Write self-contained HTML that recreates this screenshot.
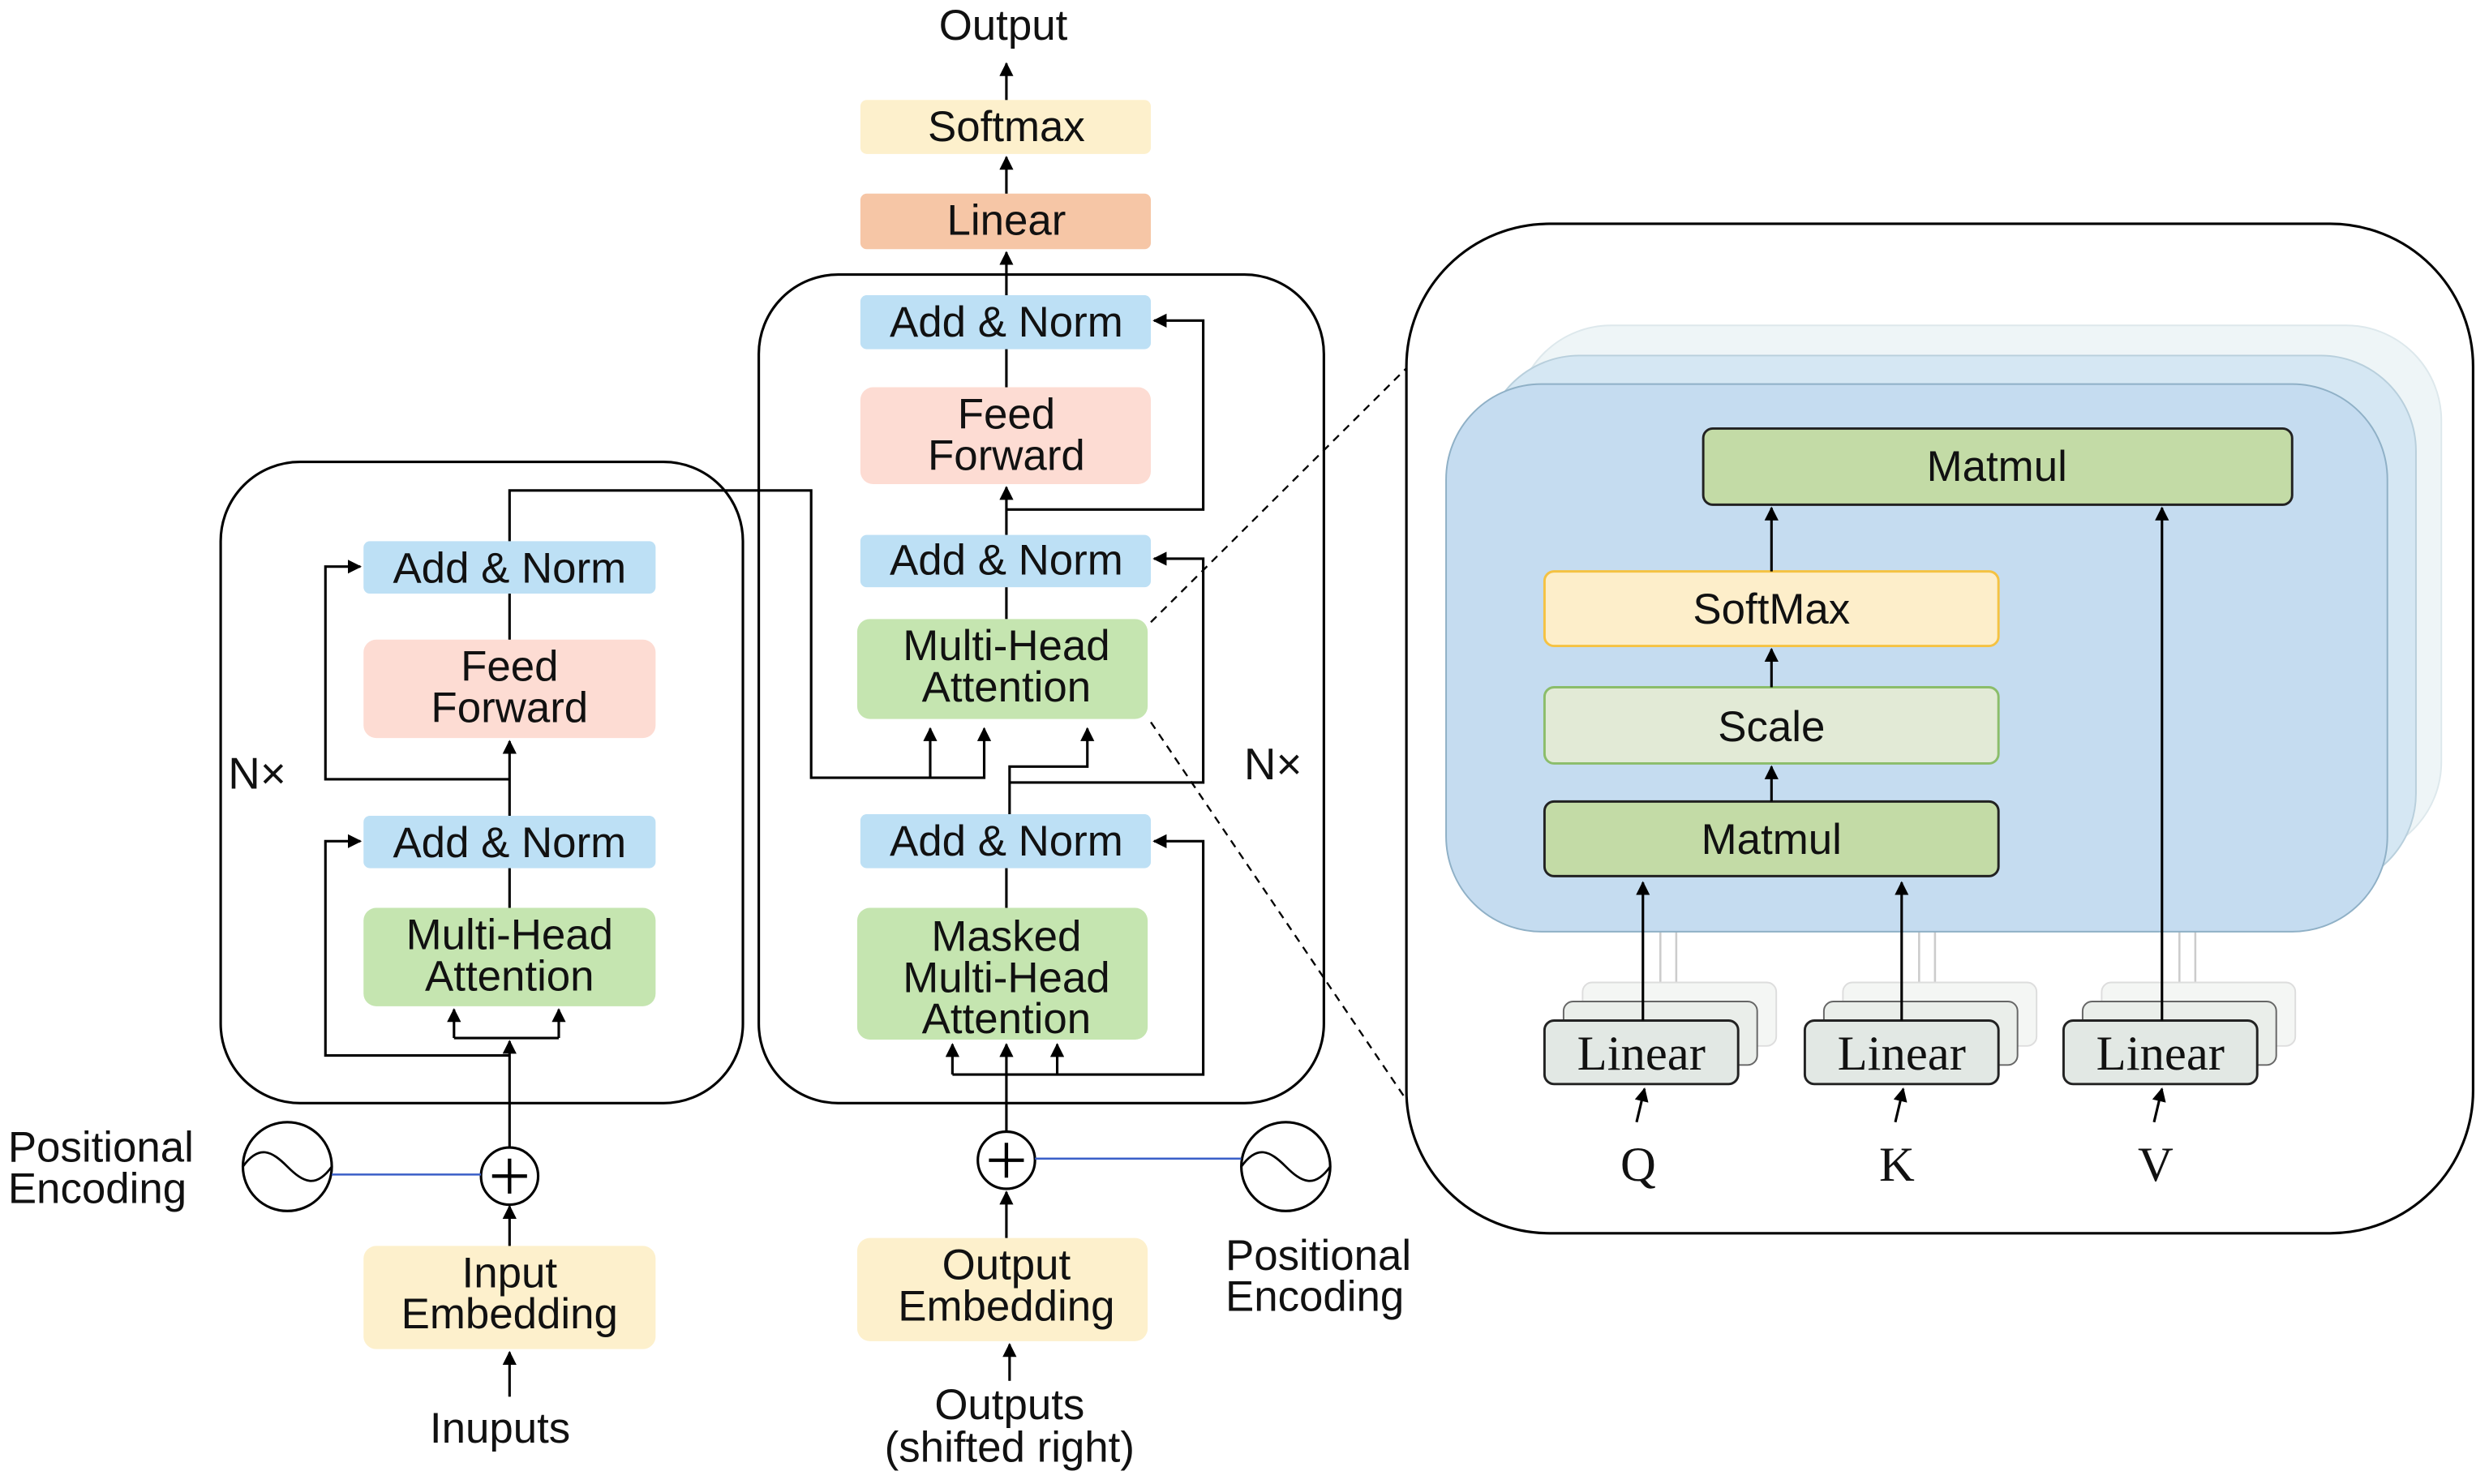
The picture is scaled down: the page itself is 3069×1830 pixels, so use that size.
<!DOCTYPE html>
<html><head><meta charset="utf-8"><style>
html,body{margin:0;padding:0;background:#fff;width:3069px;height:1830px;overflow:hidden}
svg{display:block}
text{font-family:"Liberation Sans",sans-serif;fill:#111;text-anchor:middle}
.s{font-family:"Liberation Serif",serif}
</style></head><body>
<svg width="3069" height="1830" viewBox="0 0 1568 935" xmlns="http://www.w3.org/2000/svg">
<defs>
<marker id="a" viewBox="0 0 10 10" refX="9" refY="5" markerWidth="5.5" markerHeight="5.5" orient="auto-start-reverse"><path d="M0,0L10,5L0,10z" fill="#000"/></marker>
</defs>
<g stroke="#000" stroke-width="1.6" fill="none">
<rect x="139" y="291" width="329" height="404" rx="50"/>
<rect x="478" y="173" width="356" height="522" rx="50"/>
<rect x="886" y="141" width="672" height="636" rx="90"/>
</g>
<rect x="542" y="63" width="183" height="34" rx="4" fill="#fdf0cc"/>
<rect x="542" y="122" width="183" height="35" rx="4" fill="#f6c6a6"/>
<rect x="542" y="186" width="183" height="34" rx="4" fill="#bde0f5"/>
<rect x="542" y="244" width="183" height="61" rx="8" fill="#fddcd3"/>
<rect x="542" y="337" width="183" height="33" rx="4" fill="#bde0f5"/>
<rect x="540" y="390" width="183" height="63" rx="8" fill="#c5e5b0"/>
<rect x="542" y="513" width="183" height="34" rx="4" fill="#bde0f5"/>
<rect x="540" y="572" width="183" height="83" rx="8" fill="#c5e5b0"/>
<rect x="540" y="780" width="183" height="65" rx="8" fill="#fdf0cc"/>
<rect x="229" y="341" width="184" height="33" rx="4" fill="#bde0f5"/>
<rect x="229" y="403" width="184" height="62" rx="8" fill="#fddcd3"/>
<rect x="229" y="514" width="184" height="33" rx="4" fill="#bde0f5"/>
<rect x="229" y="572" width="184" height="62" rx="8" fill="#c5e5b0"/>
<rect x="229" y="785" width="184" height="65" rx="8" fill="#fdf0cc"/>
<g font-size="27">
<text x="632" y="25">Output</text>
<text x="634" y="89">Softmax</text>
<text x="634" y="148">Linear</text>
<text x="634" y="212">Add &amp; Norm</text>
<text x="634" y="270">Feed</text><text x="634" y="296">Forward</text>
<text x="634" y="362">Add &amp; Norm</text>
<text x="634" y="416">Multi-Head</text><text x="634" y="442">Attention</text>
<text x="634" y="539">Add &amp; Norm</text>
<text x="634" y="599">Masked</text><text x="634" y="625">Multi-Head</text><text x="634" y="651">Attention</text>
<text x="634" y="806">Output</text><text x="634" y="832">Embedding</text>
<text x="636" y="894">Outputs</text><text x="636" y="921">(shifted right)</text>
<text x="321" y="367">Add &amp; Norm</text>
<text x="321" y="429">Feed</text><text x="321" y="455">Forward</text>
<text x="321" y="540">Add &amp; Norm</text>
<text x="321" y="598">Multi-Head</text><text x="321" y="624">Attention</text>
<text x="321" y="811">Input</text><text x="321" y="837">Embedding</text>
<text x="315" y="909">Inuputs</text>
<text x="5" y="732" style="text-anchor:start">Positional</text><text x="5" y="758" style="text-anchor:start">Encoding</text>
<text x="772" y="800" style="text-anchor:start">Positional</text><text x="772" y="826" style="text-anchor:start">Encoding</text>
<text x="162" y="497" font-size="28">N×</text>
<text x="802" y="491" font-size="28">N×</text>
</g>
<g stroke="#000" stroke-width="1.6" fill="#fff">
<circle cx="321" cy="741" r="18"/><circle cx="634" cy="731" r="18"/>
<circle cx="181" cy="735" r="28"/><circle cx="810" cy="735" r="28"/>
</g>
<g stroke="#000" stroke-width="2.2"><path d="M310,741h22M321,730v22M623,731h22M634,720v22"/></g>
<g stroke="#000" stroke-width="1.4" fill="none">
<path d="M153,735c10,-14 18,-10 28,0s18,14 28,0"/>
<path d="M782,735c10,-14 18,-10 28,0s18,14 28,0"/>
</g>
<g stroke="#3a5fc8" stroke-width="1.3"><path d="M209,740H303M652,730H782"/></g>
<g stroke="#000" stroke-width="1.6" fill="none">
<path d="M321,785V760" marker-end="url(#a)"/>
<path d="M321,880V852" marker-end="url(#a)"/>
<path d="M321,723V656" marker-end="url(#a)"/>
<path d="M286,654H352"/><path d="M286,654V636" marker-end="url(#a)"/><path d="M352,654V636" marker-end="url(#a)"/>
<path d="M321,665H205V530H227" marker-end="url(#a)"/>
<path d="M321,572V547"/>
<path d="M321,514V467" marker-end="url(#a)"/>
<path d="M321,491H205V357H227" marker-end="url(#a)"/>
<path d="M321,403V374"/>
<path d="M321,341V309H511V490H620V459" marker-end="url(#a)"/>
<path d="M586,490V459" marker-end="url(#a)"/>
<path d="M636,870V847" marker-end="url(#a)"/>
<path d="M634,780V751" marker-end="url(#a)"/>
<path d="M634,713V658" marker-end="url(#a)"/>
<path d="M600,677H758V530H727" marker-end="url(#a)"/>
<path d="M600,677V658" marker-end="url(#a)"/><path d="M666,677V658" marker-end="url(#a)"/>
<path d="M634,572V547"/>
<path d="M636,513V483H685V459" marker-end="url(#a)"/>
<path d="M636,493H758V352H727" marker-end="url(#a)"/>
<path d="M634,390V370"/>
<path d="M634,337V307" marker-end="url(#a)"/>
<path d="M634,321H758V202H727" marker-end="url(#a)"/>
<path d="M634,244V220"/>
<path d="M634,186V159" marker-end="url(#a)"/>
<path d="M634,122V99" marker-end="url(#a)"/>
<path d="M634,63V40" marker-end="url(#a)"/>
</g>
<g stroke="#000" stroke-width="1.2" stroke-dasharray="5,4" fill="none">
<path d="M725,392L886,232"/><path d="M725,455L886,693"/>
</g>
<rect x="955" y="205" width="583" height="335" rx="60" fill="#eef5f7" stroke="#dde8ec"/>
<rect x="935" y="224" width="587" height="336" rx="60" fill="#d5e7f3" stroke="#b8cfdc"/>
<g stroke="#ccc" stroke-width="1.3"><path d="M1046,587V625M1056,587V620M1209,587V625M1219,587V620M1373,587V625M1383,587V620"/></g>
<g fill="#f4f6f4" stroke="#ddd"><rect x="997" y="619" width="122" height="40" rx="6"/><rect x="1161" y="619" width="122" height="40" rx="6"/><rect x="1324" y="619" width="122" height="40" rx="6"/></g>
<g fill="#eaeeea" stroke="#666"><rect x="985" y="631" width="122" height="40" rx="6"/><rect x="1149" y="631" width="122" height="40" rx="6"/><rect x="1312" y="631" width="122" height="40" rx="6"/></g>
<rect x="911" y="242" width="593" height="345" rx="60" fill="#c5dcf0" stroke="#8fb0c6"/>
<g fill="#e2e8e4" stroke="#222" stroke-width="1.5"><rect x="973" y="643" width="122" height="40" rx="6"/><rect x="1137" y="643" width="122" height="40" rx="6"/><rect x="1300" y="643" width="122" height="40" rx="6"/></g>
<rect x="1073" y="270" width="371" height="48" rx="6" fill="#c3dba6" stroke="#222" stroke-width="1.5"/>
<rect x="973" y="360" width="286" height="47" rx="6" fill="#fdeeca" stroke="#f5c242" stroke-width="1.5"/>
<rect x="973" y="433" width="286" height="48" rx="6" fill="#e2ead6" stroke="#8bbd6a" stroke-width="1.5"/>
<rect x="973" y="505" width="286" height="47" rx="6" fill="#c3dba6" stroke="#222" stroke-width="1.5"/>
<g font-size="27">
<text x="1258" y="303">Matmul</text>
<text x="1116" y="393">SoftMax</text>
<text x="1116" y="467">Scale</text>
<text x="1116" y="538">Matmul</text>
</g>
<g font-size="31">
<text class="s" x="1034" y="674">Linear</text><text class="s" x="1198" y="674">Linear</text><text class="s" x="1361" y="674">Linear</text>
<text class="s" x="1032" y="744">Q</text><text class="s" x="1195" y="744">K</text><text class="s" x="1358" y="744">V</text>
</g>
<g stroke="#000" stroke-width="1.6" fill="none">
<path d="M1035,643V556" marker-end="url(#a)"/>
<path d="M1198,643V556" marker-end="url(#a)"/>
<path d="M1362,643V320" marker-end="url(#a)"/>
<path d="M1116,360V320" marker-end="url(#a)"/>
<path d="M1116,433V409" marker-end="url(#a)"/>
<path d="M1116,505V483" marker-end="url(#a)"/>
<path d="M1031,707L1036,686" marker-end="url(#a)"/>
<path d="M1194,707L1199,686" marker-end="url(#a)"/>
<path d="M1357,707L1362,686" marker-end="url(#a)"/>
</g>
</svg>
</body></html>
